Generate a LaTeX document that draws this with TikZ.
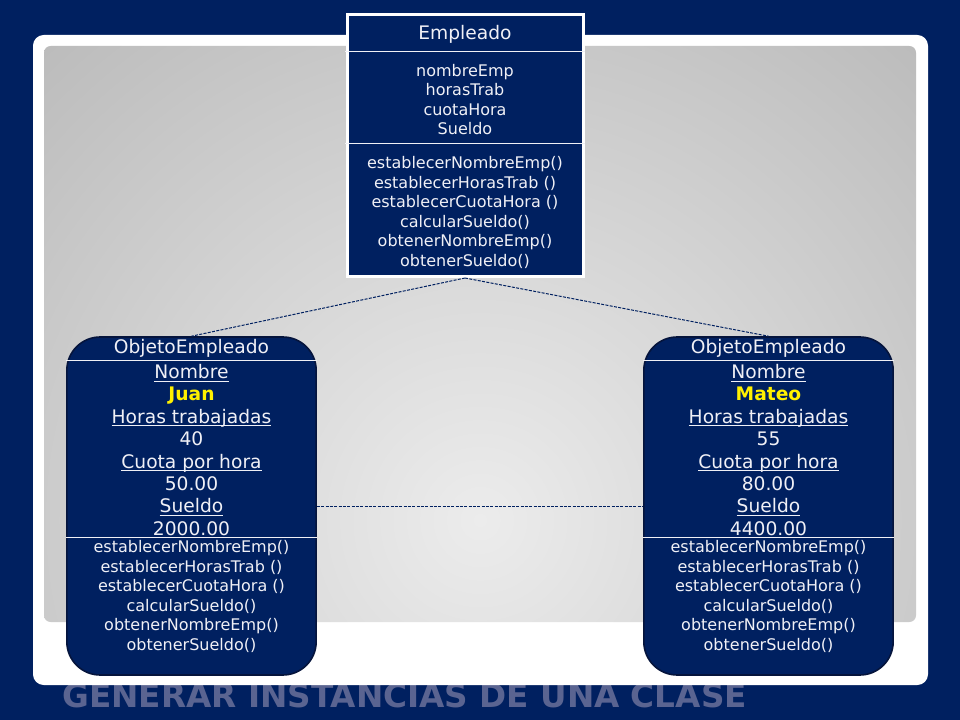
\documentclass[tikz,border=0pt]{standalone}
\usepackage{fontspec}
\setmainfont{DejaVu Sans}
\usepackage{tikz}
\usetikzlibrary{positioning}
\definecolor{fondo}{RGB}{0,32,96}
\definecolor{borde}{RGB}{5,20,60}
\definecolor{titgris}{RGB}{90,100,145}
\definecolor{letra}{RGB}{240,240,246}
\definecolor{amarillo}{RGB}{255,240,0}
\definecolor{grisclaro}{RGB}{236,236,236}
\definecolor{grisoscuro}{RGB}{135,135,135}

\newcommand{\listaMetodos}{establecerNombreEmp()\\establecerHorasTrab ()\\establecerCuotaHora ()\\calcularSueldo()\\obtenerNombreEmp()\\obtenerSueldo()}
\newcommand{\subr}[1]{\setbox0\hbox{#1}\dp0=0pt\vtop{\box0\kern1.5pt\hrule height 0.8pt}}

\tikzset{
  clase/.style={draw=white, line width=2.25pt, fill=fondo, minimum width=177pt, minimum height=196.5pt, inner sep=0pt},
  objeto/.style={draw=borde, line width=1.2pt, fill=fondo, rounded corners=25pt, minimum width=187pt, minimum height=253.5pt, inner sep=0pt},
  txtcls/.style={text=letra, align=center, inner sep=0pt, font=\fontsize{12}{14.7}\selectfont},
  txtobj/.style={text=letra, align=center, inner sep=0pt, font=\fontsize{14}{16.8}\selectfont},
  separa/.style={draw=letra, line width=0.75pt},
  enlace/.style={draw=fondo, line width=0.75pt, dash pattern=on 2.25pt off 1pt}
}

\begin{document}
\begin{tikzpicture}[x=0.75pt,y=-0.75pt]
  \useasboundingbox (0,0) rectangle (960,720);

  % Fondo y panel
  \fill[fondo] (0,0) rectangle (960,720);
  \node[text=titgris, inner sep=0pt, anchor=base west, font=\fontsize{24.5}{28}\selectfont\bfseries] (titulo) at (62,707) {GENERAR INSTANCIAS DE UNA CLASE};
  \fill[white, rounded corners=8pt] (33,35) rectangle (928,685);
  \begin{scope}
    \clip[rounded corners=5pt] (44,46) rectangle (916,622);
    \shade[inner color=grisclaro, outer color=grisoscuro] (-870,-830) rectangle (1830,1870);
  \end{scope}

  % Clase
  \node[clase] (emp) at (465,145.5) {};
  \node[txtcls, font=\fontsize{14}{16}\selectfont] (empNom) at (465,34) {Empleado};
  \draw[separa] (345,52) -- (585,52);
  \node[txtcls] (empAtr) at (465,99.5) {nombreEmp\\horasTrab\\cuotaHora\\Sueldo};
  \draw[separa] (345,144) -- (585,144);
  \node[txtcls] (empMet) at (465,212.5) {\listaMetodos};

  % Objetos
  \node[objeto] (objA) at (191.5,506) {};
  \node[objeto] (objB) at (768.5,506) {};

  \node[txtobj] (objAtit) at (191.5,348.5) {ObjetoEmpleado};
  \node[txtobj] (objBtit) at (768.5,348.5) {ObjetoEmpleado};
  \draw[separa] (66,360) -- (317,360);
  \draw[separa] (643,360) -- (894,360);

  \node[txtobj] (objAatr) at (191.5,450) {\subr{Nombre}\\\textcolor{amarillo}{\textbf{Juan}}\\\subr{Horas trabajadas}\\40\\\subr{Cuota por hora}\\50.00\\\subr{Sueldo}\\2000.00};
  \node[txtobj] (objBatr) at (768.5,450) {\subr{Nombre}\\\textcolor{amarillo}{\textbf{Mateo}}\\\subr{Horas trabajadas}\\55\\\subr{Cuota por hora}\\80.00\\\subr{Sueldo}\\4400.00};
  \draw[separa] (66,537) -- (317,537);
  \draw[separa] (643,537) -- (894,537);

  \node[txtcls] (objAmet) at (191.5,596.5) {\listaMetodos};
  \node[txtcls] (objBmet) at (768.5,596.5) {\listaMetodos};

  % Enlaces
  \draw[enlace] (emp.south) -- (objA.north);
  \draw[enlace] (emp.south) -- (objB.north);
  \draw[enlace] (objA.east) -- (objB.west);
\end{tikzpicture}
\end{document}
